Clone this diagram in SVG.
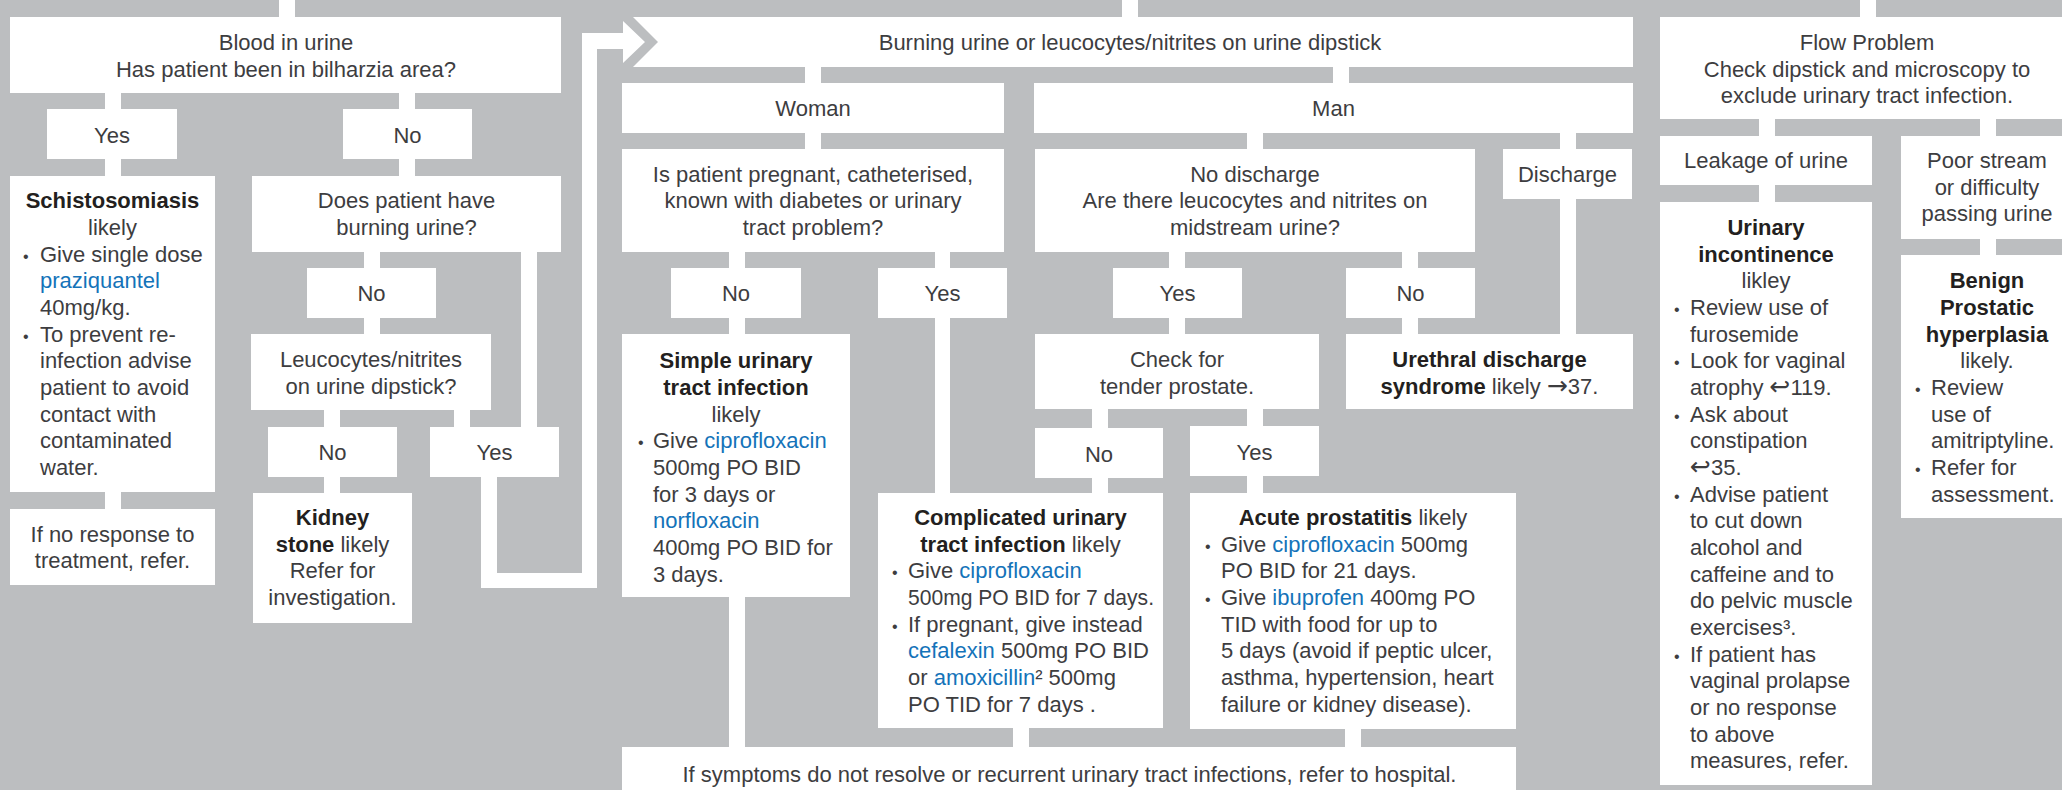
<svg xmlns="http://www.w3.org/2000/svg" width="2062" height="790" viewBox="0 0 2062 790">
<style>
.bx{fill:#ffffff}
.cn{fill:#ffffff}
text{font-family:"Liberation Sans",Arial,sans-serif;font-size:22px;fill:#3d3d3f}
.c{text-anchor:middle}
.b{font-weight:bold;fill:#231f20}
.d{fill:#1473b9}
.bu{font-size:16px}
.ar{font-family:"DejaVu Sans",sans-serif;font-size:25px}
</style>
<rect x="0" y="0" width="2062" height="790" fill="#bcbec0"/>
<g id="connectors">
<rect class="cn" x="279" y="0" width="16" height="17"/>
<rect class="cn" x="1122" y="0" width="16" height="17"/>
<rect class="cn" x="1860" y="0" width="16" height="17"/>
<rect class="cn" x="105" y="93" width="16" height="16"/>
<rect class="cn" x="105" y="159" width="16" height="17"/>
<rect class="cn" x="105" y="492" width="16" height="17"/>
<rect class="cn" x="399" y="93" width="16" height="16"/>
<rect class="cn" x="399" y="159" width="16" height="17"/>
<rect class="cn" x="364" y="252" width="16" height="16"/>
<rect class="cn" x="364" y="318" width="16" height="16"/>
<rect class="cn" x="324" y="410" width="16" height="17"/>
<rect class="cn" x="324" y="477" width="16" height="16"/>
<rect class="cn" x="454" y="410" width="16" height="17"/>
<rect class="cn" x="521" y="252" width="16" height="175"/>
<path class="cn" d="M481,477 H497 V573 H582 V33 H623 V21 L645,42 L623,63 V49 H597 V588 H481 Z"/>
<rect class="cn" x="805" y="67" width="16" height="16"/>
<rect class="cn" x="805" y="133" width="16" height="16"/>
<rect class="cn" x="729" y="252" width="16" height="16"/>
<rect class="cn" x="729" y="318" width="16" height="16"/>
<rect class="cn" x="935" y="252" width="15" height="16"/>
<rect class="cn" x="935" y="318" width="15" height="175"/>
<rect class="cn" x="729" y="597" width="16" height="150"/>
<rect class="cn" x="1013" y="728" width="16" height="19"/>
<rect class="cn" x="1333" y="67" width="16" height="16"/>
<rect class="cn" x="1247" y="133" width="16" height="16"/>
<rect class="cn" x="1560" y="133" width="16" height="16"/>
<rect class="cn" x="1560" y="199" width="16" height="135"/>
<rect class="cn" x="1169" y="252" width="16" height="16"/>
<rect class="cn" x="1169" y="318" width="16" height="16"/>
<rect class="cn" x="1402" y="252" width="16" height="16"/>
<rect class="cn" x="1402" y="318" width="16" height="16"/>
<rect class="cn" x="1092" y="409" width="16" height="19"/>
<rect class="cn" x="1247" y="409" width="16" height="17"/>
<rect class="cn" x="1092" y="478" width="16" height="15"/>
<rect class="cn" x="1247" y="476" width="16" height="17"/>
<rect class="cn" x="1345" y="729" width="16" height="18"/>
<rect class="cn" x="1759" y="119" width="16" height="17"/>
<rect class="cn" x="1980" y="119" width="16" height="17"/>
<rect class="cn" x="1759" y="185" width="16" height="17"/>
<rect class="cn" x="1980" y="239" width="16" height="16"/>
</g>
<g id="blood"><rect class="bx" x="10" y="17" width="551" height="76"/>
<text class="c" x="286" y="50">Blood in urine</text><text class="c" x="286" y="76.5">Has patient been in bilharzia area?</text></g>
<g id="yes1"><rect class="bx" x="47" y="109" width="130" height="50"/><text class="c" x="112" y="143">Yes</text></g>
<g id="no1"><rect class="bx" x="343" y="109" width="129" height="50"/><text class="c" x="407.5" y="143">No</text></g>
<g id="schisto"><rect class="bx" x="10" y="176" width="205" height="316"/>
<text class="c b" x="112.5" y="208.3">Schistosomiasis</text>
<text class="c" x="112.5" y="235">likely</text>
<text class="bu" x="23" y="261.7">•</text><text x="40" y="261.7">Give single dose</text>
<text class="d" x="40" y="288.3">praziquantel</text>
<text x="40" y="315">40mg/kg.</text>
<text class="bu" x="23" y="341.7">•</text><text x="40" y="341.7">To prevent re-</text>
<text x="40" y="368.3">infection advise</text>
<text x="40" y="395">patient to avoid</text>
<text x="40" y="421.7">contact with</text>
<text x="40" y="448.3">contaminated</text>
<text x="40" y="475">water.</text></g>
<g id="ifno"><rect class="bx" x="10" y="509" width="205" height="76"/>
<text class="c" x="112.5" y="542">If no response to</text><text class="c" x="112.5" y="568">treatment, refer.</text></g>
<g id="does"><rect class="bx" x="252" y="176" width="309" height="76"/>
<text class="c" x="406.5" y="208.3">Does patient have</text><text class="c" x="406.5" y="235">burning urine?</text></g>
<g id="no2"><rect class="bx" x="307" y="268" width="129" height="50"/><text class="c" x="371.5" y="301">No</text></g>
<g id="leuco"><rect class="bx" x="251" y="334" width="240" height="76"/>
<text class="c" x="371" y="367">Leucocytes/nitrites</text><text class="c" x="371" y="393.5">on urine dipstick?</text></g>
<g id="no3"><rect class="bx" x="268" y="427" width="129" height="50"/><text class="c" x="332.5" y="460">No</text></g>
<g id="yes3"><rect class="bx" x="430" y="427" width="129" height="50"/><text class="c" x="494.5" y="460">Yes</text></g>
<g id="kidney"><rect class="bx" x="253" y="493" width="159" height="130"/>
<text class="c b" x="332.5" y="525">Kidney</text>
<text class="c" x="332.5" y="551.7"><tspan class="b">stone</tspan> likely</text>
<text class="c" x="332.5" y="578.3">Refer for</text>
<text class="c" x="332.5" y="605">investigation.</text></g>
<g id="burning"><path class="bx" d="M633,17 H1633 V67 H633 L658,42 Z"/>
<text class="c" x="1130" y="50">Burning urine or leucocytes/nitrites on urine dipstick</text></g>
<g id="woman"><rect class="bx" x="622" y="83" width="382" height="50"/><text class="c" x="813" y="116">Woman</text></g>
<g id="man"><rect class="bx" x="1034" y="83" width="599" height="50"/><text class="c" x="1333.5" y="116">Man</text></g>
<g id="is"><rect class="bx" x="622" y="149" width="382" height="103"/>
<text class="c" x="813" y="181.5">Is patient pregnant, catheterised,</text>
<text class="c" x="813" y="208">known with diabetes or urinary</text>
<text class="c" x="813" y="234.5">tract problem?</text></g>
<g id="no4"><rect class="bx" x="671" y="268" width="130" height="50"/><text class="c" x="736" y="301">No</text></g>
<g id="yes4"><rect class="bx" x="878" y="268" width="129" height="50"/><text class="c" x="942.5" y="301">Yes</text></g>
<g id="simple"><rect class="bx" x="622" y="334" width="228" height="263"/>
<text class="c b" x="736" y="368.3">Simple urinary</text>
<text class="c b" x="736" y="395">tract infection</text>
<text class="c" x="736" y="421.7">likely</text>
<text class="bu" x="638" y="448.3">•</text><text x="653" y="448.3">Give <tspan class="d">ciprofloxacin</tspan></text>
<text x="653" y="475">500mg PO BID</text>
<text x="653" y="501.7">for 3 days or</text>
<text class="d" x="653" y="528.3">norfloxacin</text>
<text x="653" y="555">400mg PO BID for</text>
<text x="653" y="581.7">3 days.</text></g>
<g id="complicated"><rect class="bx" x="878" y="493" width="285" height="235"/>
<text class="c b" x="1020.5" y="525">Complicated urinary</text>
<text class="c" x="1020.5" y="551.7"><tspan class="b">tract infection</tspan> likely</text>
<text class="bu" x="892" y="578.3">•</text><text x="908" y="578.3">Give <tspan class="d">ciprofloxacin</tspan></text>
<text x="908" y="605" textLength="246" lengthAdjust="spacingAndGlyphs">500mg PO BID for 7 days.</text>
<text class="bu" x="892" y="631.7">•</text><text x="908" y="631.7">If pregnant, give instead</text>
<text x="908" y="658.3"><tspan class="d">cefalexin</tspan> 500mg PO BID</text>
<text x="908" y="685">or <tspan class="d">amoxicillin</tspan>² 500mg</text>
<text x="908" y="711.7">PO TID for 7 days .</text></g>
<g id="nodisch"><rect class="bx" x="1035" y="149" width="440" height="103"/>
<text class="c" x="1255" y="181.5">No discharge</text>
<text class="c" x="1255" y="208">Are there leucocytes and nitrites on</text>
<text class="c" x="1255" y="234.5">midstream urine?</text></g>
<g id="discharge"><rect class="bx" x="1503" y="149" width="129" height="50"/><text class="c" x="1567.5" y="182">Discharge</text></g>
<g id="yes5"><rect class="bx" x="1113" y="268" width="129" height="50"/><text class="c" x="1177.5" y="301">Yes</text></g>
<g id="no5"><rect class="bx" x="1346" y="268" width="129" height="50"/><text class="c" x="1410.5" y="301">No</text></g>
<g id="check"><rect class="bx" x="1035" y="334" width="284" height="75"/>
<text class="c" x="1177" y="367">Check for</text><text class="c" x="1177" y="393.5">tender prostate.</text></g>
<g id="urethral"><rect class="bx" x="1346" y="334" width="287" height="75"/>
<text class="c b" x="1489.5" y="367">Urethral discharge</text>
<text class="c" x="1489.5" y="393.5"><tspan class="b">syndrome</tspan> likely <tspan class="ar">→</tspan>37.</text></g>
<g id="no6"><rect class="bx" x="1035" y="428" width="128" height="50"/><text class="c" x="1099" y="462">No</text></g>
<g id="yes6"><rect class="bx" x="1190" y="426" width="129" height="50"/><text class="c" x="1254.5" y="460">Yes</text></g>
<g id="acute"><rect class="bx" x="1190" y="493" width="326" height="236"/>
<text class="c" x="1353" y="525"><tspan class="b">Acute prostatitis</tspan> likely</text>
<text class="bu" x="1205" y="551.7">•</text><text x="1221" y="551.7">Give <tspan class="d">ciprofloxacin</tspan> 500mg</text>
<text x="1221" y="578.3">PO BID for 21 days.</text>
<text class="bu" x="1205" y="605">•</text><text x="1221" y="605">Give <tspan class="d">ibuprofen</tspan> 400mg PO</text>
<text x="1221" y="631.7">TID with food for up to</text>
<text x="1221" y="658.3">5 days (avoid if peptic ulcer,</text>
<text x="1221" y="685">asthma, hypertension, heart</text>
<text x="1221" y="711.7">failure or kidney disease).</text></g>
<g id="ifsym"><rect class="bx" x="622" y="747" width="894" height="50"/>
<text class="c" x="1069.5" y="782">If symptoms do not resolve or recurrent urinary tract infections, refer to hospital.</text></g>
<g id="flow"><rect class="bx" x="1660" y="17" width="414" height="102"/>
<text class="c" x="1867" y="50">Flow Problem</text>
<text class="c" x="1867" y="77">Check dipstick and microscopy to</text>
<text class="c" x="1867" y="103">exclude urinary tract infection.</text></g>
<g id="leakage"><rect class="bx" x="1660" y="136" width="212" height="49"/><text class="c" x="1766" y="168">Leakage of urine</text></g>
<g id="poor"><rect class="bx" x="1901" y="136" width="173" height="103"/>
<text class="c" x="1987" y="168">Poor stream</text>
<text class="c" x="1987" y="195">or difficulty</text>
<text class="c" x="1987" y="221">passing urine</text></g>
<g id="urinary"><rect class="bx" x="1660" y="202" width="212" height="583"/>
<text class="c b" x="1766" y="235">Urinary</text>
<text class="c b" x="1766" y="261.7">incontinence</text>
<text class="c" x="1766" y="288.3">likley</text>
<text class="bu" x="1674" y="315">•</text><text x="1690" y="315">Review use of</text>
<text x="1690" y="341.7">furosemide</text>
<text class="bu" x="1674" y="368.3">•</text><text x="1690" y="368.3">Look for vaginal</text>
<text x="1690" y="395">atrophy <tspan class="ar">↩</tspan>119.</text>
<text class="bu" x="1674" y="421.7">•</text><text x="1690" y="421.7">Ask about</text>
<text x="1690" y="448.3">constipation</text>
<text x="1690" y="475"><tspan class="ar">↩</tspan>35.</text>
<text class="bu" x="1674" y="501.7">•</text><text x="1690" y="501.7">Advise patient</text>
<text x="1690" y="528.3">to cut down</text>
<text x="1690" y="555">alcohol and</text>
<text x="1690" y="581.7">caffeine and to</text>
<text x="1690" y="608.3">do pelvic muscle</text>
<text x="1690" y="635">exercises³.</text>
<text class="bu" x="1674" y="661.7">•</text><text x="1690" y="661.7">If patient has</text>
<text x="1690" y="688.3">vaginal prolapse</text>
<text x="1690" y="715">or no response</text>
<text x="1690" y="741.7">to above</text>
<text x="1690" y="768.3">measures, refer.</text></g>
<g id="benign"><rect class="bx" x="1901" y="255" width="173" height="263"/>
<text class="c b" x="1987" y="288.3">Benign</text>
<text class="c b" x="1987" y="315">Prostatic</text>
<text class="c b" x="1987" y="341.7">hyperplasia</text>
<text class="c" x="1987" y="368.3">likely.</text>
<text class="bu" x="1915" y="395">•</text><text x="1931" y="395">Review</text>
<text x="1931" y="421.7">use of</text>
<text x="1931" y="448.3">amitriptyline.</text>
<text class="bu" x="1915" y="475">•</text><text x="1931" y="475">Refer for</text>
<text x="1931" y="501.7">assessment.</text></g>
</svg>
